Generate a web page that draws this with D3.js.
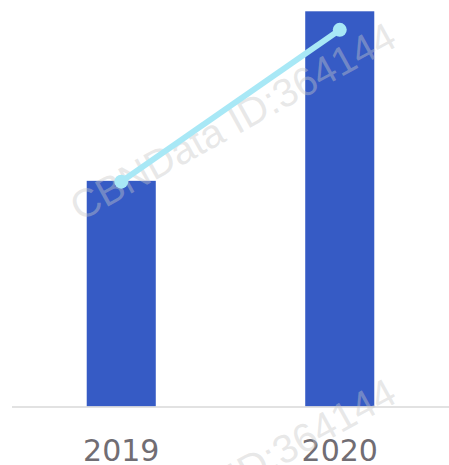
<!DOCTYPE html>
<html>
<head>
<meta charset="utf-8">
<script src="https://cdn.jsdelivr.net/npm/d3@7"></script>
<style>
  body { margin: 0; background: #fff; }
</style>
</head>
<body>
<svg id="chart" width="449" height="465"></svg>
<script>
const years = ["2019", "2020"]
const barValues = [57.1, 100]
const lineValues = [56.9, 95.3]
const watermark = "CBNData ID:364144"

const svg = d3.select("#chart")
const width = 449, base = 406.5

const x = d3.scaleBand().domain(years).range([12, 449]).paddingInner(0.684).paddingOuter(0.342)
const y = d3.scaleLinear().domain([0, 100]).range([base, 11.3])

// bars
svg.selectAll("rect.bar")
  .data(years)
  .join("rect")
    .attr("class", "bar")
    .attr("x", d => x(d))
    .attr("width", x.bandwidth())
    .attr("y", (d, i) => y(barValues[i]))
    .attr("height", (d, i) => base - y(barValues[i]))
    .attr("fill", "#365bc5")

// baseline
svg.append("line")
  .attr("x1", 12).attr("x2", width)
  .attr("y1", base + 0.5).attr("y2", base + 0.5)
  .attr("stroke", "#d9d9d9")
  .attr("stroke-width", 1.5)

// axis labels
svg.selectAll("text.year")
  .data(years)
  .join("text")
    .attr("class", "year")
    .attr("x", d => x(d) + x.bandwidth() / 2)
    .attr("y", 461)
    .attr("text-anchor", "middle")
    .attr("font-family", "DejaVu Sans, Verdana, sans-serif")
    .attr("font-size", 30)
    .attr("fill", "#716d73")
    .text(d => d)

// watermark (under the line)
svg.selectAll("text.wm")
  .data([222, 578])
  .join("text")
    .attr("class", "wm")
    .attr("transform", d => `translate(80,${d}) rotate(-29)`)
    .attr("font-family", "Liberation Sans, Arial, sans-serif")
    .attr("font-size", 40)
    .attr("fill", "rgba(200,200,200,0.42)")
    .text(watermark)

// line
const line = d3.line()
  .x((d, i) => x(years[i]) + x.bandwidth() / 2)
  .y(d => y(d))

svg.append("path")
  .datum(lineValues)
  .attr("d", line)
  .attr("fill", "none")
  .attr("stroke", "#a8e8f6")
  .attr("stroke-width", 6)

svg.selectAll("circle.pt")
  .data(lineValues)
  .join("circle")
    .attr("class", "pt")
    .attr("cx", (d, i) => x(years[i]) + x.bandwidth() / 2)
    .attr("cy", d => y(d))
    .attr("r", 7)
    .attr("fill", "#a8e8f6")
</script>
</body>
</html>
